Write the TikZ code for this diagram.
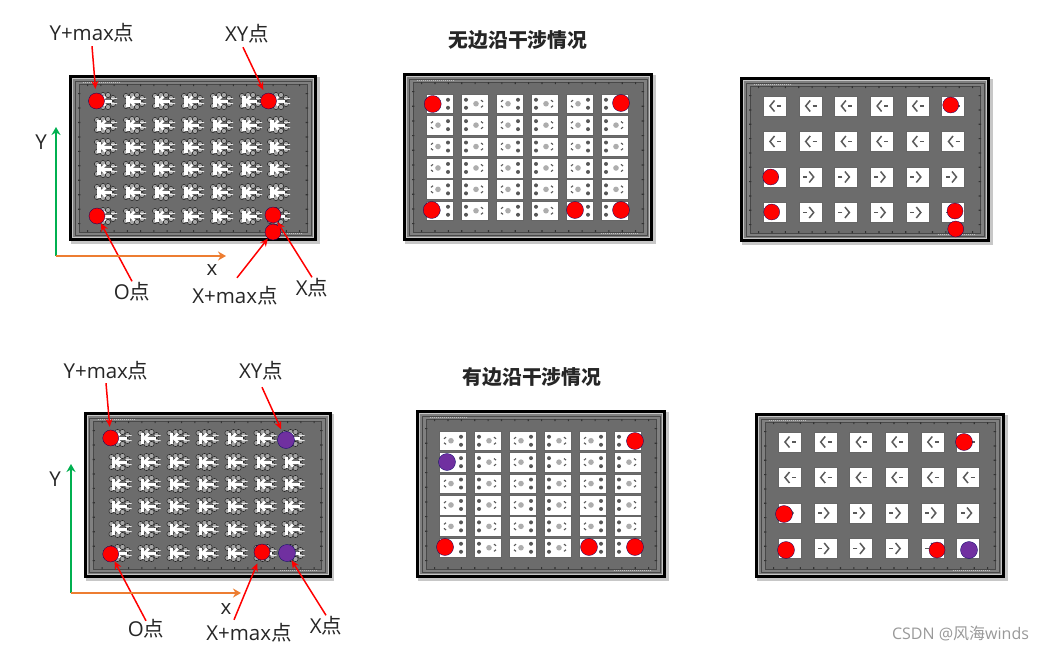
\documentclass[tikz,border=0pt]{standalone}
\usepackage{fontspec}
\setmainfont{Open Sans}
\newfontfamily\cjk{Noto Sans CJK SC}
\usetikzlibrary{arrows.meta, calc}

\definecolor{paneldark}{HTML}{6C6C6C}
\definecolor{panelband}{HTML}{808080}
\definecolor{panelline}{HTML}{484848}
\definecolor{dotred}{HTML}{FF0000}
\definecolor{dotpurple}{HTML}{7030A0}
\definecolor{axisgreen}{HTML}{00B050}
\definecolor{axisorange}{HTML}{ED7D31}

\tikzset{
    reddot/.style={circle, fill=dotred, draw=blue!40!black, line width=0.3pt, minimum size=#1, inner sep=0pt},
    reddot/.default=16pt,
    purpledot/.style={circle, fill=dotpurple, draw=blue!40!black, line width=0.3pt, minimum size=17pt, inner sep=0pt},
    redarrow/.style={-{Stealth[length=8pt,width=7pt]}, red, line width=1.5pt},
    axisarrow/.style={-{Stealth[length=8pt,width=9pt]}, line width=2pt},
    lab/.style={font=\fontsize{20.5}{22}\selectfont, text=black!85, inner sep=1pt, text height=17pt, text depth=2pt},
    titlelab/.style={font=\cjk\bfseries\fontsize{19.8}{22}\selectfont, text=black!85, inner sep=0pt},
    cellbox/.style={fill=white, draw=black!60, line width=0.4pt}
}

\newcommand{\dian}{{\cjk 点}}

% board outline, x y width height
\newcommand{\boardframe}[4]{
    \fill[black!22] (#1+2,#2+2) rectangle ++(#3+0.5,#4+0.5);
    \fill[black] (#1,#2) rectangle ++(#3,#4);
    \fill[black!22] (#1+3,#2+3) rectangle ++(#3-6,#4-6);
    \fill[panelband] (#1+4,#2+4) rectangle ++(#3-8,#4-8);
    \fill[paneldark] (#1+10,#2+9) rectangle ++(#3-20,#4-18);
    \draw[panelline, line width=0.4pt] (#1+6,#2+6) rectangle ++(#3-12,#4-12);
    \draw[panelline, line width=0.6pt] (#1+10,#2+9) rectangle ++(#3-20,#4-18);
    \draw[black!25, line width=1pt, dash pattern=on 1pt off 1pt] (#1+14,#2+7.5) -- ++(38,0) (#1+#3-52,#2+#4-7.5) -- ++(38,0);
    \foreach \tk in {0,...,16}{
        \fill[black!80] ({#1+18+\tk*(#3-36)/16},#2+9) rectangle ++(1.2,2)
                        ({#1+18+\tk*(#3-36)/16},#2+#4-11) rectangle ++(1.2,2);
    }
    \foreach \tk in {0,...,9}{
        \fill[black!80] (#1+9,{#2+18+\tk*(#4-36)/9}) rectangle ++(2.4,1.2)
                        (#1+#3-11.4,{#2+18+\tk*(#4-36)/9}) rectangle ++(2.4,1.2);
    }
}

% small white lead shape of the 7x6 board
\newcommand{\leadmark}[2]{
    \foreach \bx/\by in {-2/-6,3/-6,8/-3,8/3,3/6,-2/6,-8/-5,-8/5}{
        \fill[black!35, draw=black!85, line width=0.5pt] (#1+\bx,#2+\by) circle (2.6);
    }
    \fill[white] (#1-8,#2-5.5) rectangle ++(3.6,11);
    \draw[white, line width=2.8pt] (#1+0.5,#2-4.5) -- (#1-4,#2) -- (#1+0.5,#2+4.5);
    \fill[white] (#1-4,#2-1.5) rectangle ++(11,3);
    \fill[black!10] (#1+6,#2-3) rectangle ++(6,0.9) (#1+6,#2+2.1) rectangle ++(6,0.9);
}

% cell of the 6x6 board, side -1 has the pads on the right
\newcommand{\padcell}[3]{
    \fill[cellbox] (#1,#2) rectangle ++(27,19.5);
    \fill[black!32] ({#1+13.5+#3*1.5},#2+9.75) circle (2.8);
    \foreach \py in {-4,4}{
        \fill[black!66] ({#1+13.5-#3*8.5},#2+9.75+\py) circle (2);
        \draw[black!66, line width=1.1pt] ({#1+13.5+#3*6.5},#2+9.75+\py*0.9) -- ({#1+13.5+#3*8.5},#2+9.75+\py*0.5);
    }
}

% cell of the 6x4 board, side 1 points left
\newcommand{\arrowcell}[3]{
    \fill[cellbox] (#1,#2) rectangle ++(23,20);
    \draw[black!65, line width=1.5pt] ({#1+11+#3*0.5},#2+4.5) -- ({#1+11-#3*4},#2+10) -- ({#1+11+#3*0.5},#2+15.5);
    \draw[black!65, line width=1.7pt] ({#1+11+#3*3},#2+10) -- ({#1+11+#3*7},#2+10);
}

\newcommand{\boardleft}{
    \boardframe{69}{75}{248}{166}
    \foreach \rowy in {101,125,147,169,192,216}{
        \foreach \colx in {105,134,163,192,221,250,278}{
            \leadmark{\colx}{\rowy}
        }
    }
}
\newcommand{\boardmiddle}{
    \boardframe{403}{73}{250}{168}
    \foreach \rowy in {94,115.4,136.8,158.2,179.6,201}{
        \foreach \colx/\side in {426/-1,461/1,496/-1,531/1,566/-1,601/1}{
            \padcell{\colx}{\rowy}{\side}
        }
    }
}
\newcommand{\boardright}{
    \boardframe{740}{77}{250}{165}
    \foreach \colx in {763,798.7,834.4,870.1,905.8,941.5}{
        \foreach \rowy in {96,131.5}{
            \arrowcell{\colx}{\rowy}{1}
        }
        \foreach \rowy in {167,202.5}{
            \arrowcell{\colx}{\rowy}{-1}
        }
    }
}

\begin{document}
\begin{tikzpicture}[x=1pt, y=-1pt]
    \useasboundingbox (0,0) rectangle (1045,651);
    \fill[white] (0,0) rectangle (1045,651);

    % Top row, boards
    \boardleft
    \boardmiddle
    \boardright

    % Bottom row, boards
    \begin{scope}[shift={(14.5,337)}]
        \boardleft
    \end{scope}
    \begin{scope}[shift={(13,337)}]
        \boardmiddle
    \end{scope}
    \begin{scope}[shift={(15,336)}]
        \boardright
    \end{scope}

    % Titles
    \node[titlelab] (titletop) at (518,40) {无边沿干涉情况};
    \node[titlelab] (titlebottom) at (532,377) {有边沿干涉情况};

    % Top left dots
    \node[reddot] (ymaxa) at (96.5,101) {};
    \node[reddot] (xya) at (268.5,101) {};
    \node[reddot] (oa) at (97,216) {};
    \node[reddot] (xa) at (273,215) {};
    \node[reddot] (xmaxa) at (273,232) {};

    % Top left labels
    \node[lab] (labymaxa) at (92,33) {Y+max\dian};
    \node[lab] (labxya) at (247,34) {XY\dian};
    \node[lab] (laboa) at (132,292) {O\dian};
    \node[lab] (labxmaxa) at (235,296) {X+max\dian};
    \node[lab] (labxa) at (312,288) {X\dian};
    \node[lab] (labya) at (41,142) {Y};
    \node[lab] (labxaxisa) at (212,268) {x};

    \draw[redarrow, shorten >=4pt] ([yshift=-2.5pt]labymaxa.south) -- (ymaxa);
    \draw[redarrow, shorten >=4pt] ([xshift=-4pt,yshift=-2.5pt]labxya.south) -- (xya);
    \draw[redarrow] (laboa.north) -- (oa);
    \draw[redarrow] ([xshift=2pt,yshift=7.5pt]labxmaxa.north) -- (xmaxa);
    \draw[redarrow] (labxa.north) -- (xa);

    \coordinate (origina) at (56,256);
    \coordinate (yenda) at (56,127);
    \coordinate (xenda) at (226,256);
    \draw[axisarrow, axisgreen] (origina) -- (yenda);
    \draw[axisarrow, axisorange] (origina) -- (xenda);

    % Top middle dots
    \node[reddot=17pt] (mida1) at (432.7,104) {};
    \node[reddot=17pt] (mida2) at (621,103) {};
    \node[reddot=17pt] (mida3) at (431.7,210) {};
    \node[reddot=17pt] (mida4) at (575,210) {};
    \node[reddot=17pt] (mida5) at (621,210) {};

    % Top right dots
    \node[reddot] (righta1) at (950.7,105) {};
    \node[reddot] (righta2) at (770.7,177) {};
    \node[reddot] (righta3) at (771.7,212) {};
    \node[reddot] (righta4) at (955,211) {};
    \node[reddot] (righta5) at (955.7,229) {};

    % Bottom left dots
    \node[reddot] (ymaxb) at (110.7,438) {};
    \node[purpledot] (xyb) at (286,440) {};
    \node[reddot] (ob) at (110.7,554) {};
    \node[reddot] (xmaxb) at (262,552) {};
    \node[purpledot] (xb) at (287,553) {};

    % Bottom left labels
    \node[lab] (labymaxb) at (106,371) {Y+max\dian};
    \node[lab] (labxyb) at (261,371) {XY\dian};
    \node[lab] (labob) at (146,629) {O\dian};
    \node[lab] (labxmaxb) at (249,633) {X+max\dian};
    \node[lab] (labxb) at (326,626) {X\dian};
    \node[lab] (labyb) at (55,479) {Y};
    \node[lab] (labxaxisb) at (226,607) {x};

    \draw[redarrow, shorten >=3pt] ([yshift=-1.5pt]labymaxb.south) -- (ymaxb);
    \draw[redarrow, shorten >=3pt] ([xshift=1pt,yshift=-5.5pt]labxyb.south) -- (xyb);
    \draw[redarrow] ([yshift=-2.5pt]labob.north) -- (ob);
    \draw[redarrow, shorten >=4pt] ([xshift=-15pt,yshift=2.5pt]labxmaxb.north) -- (xmaxb);
    \draw[redarrow] (labxb.north) -- (xb);

    \coordinate (originb) at (71,593);
    \coordinate (yendb) at (71,464);
    \coordinate (xendb) at (241,593);
    \draw[axisarrow, axisgreen] (originb) -- (yendb);
    \draw[axisarrow, axisorange] (originb) -- (xendb);

    % Bottom middle dots
    \node[reddot=17pt] (midb1) at (635,441) {};
    \node[purpledot] (midb2) at (447,462) {};
    \node[reddot=17pt] (midb3) at (445,547) {};
    \node[reddot=17pt] (midb4) at (589,547) {};
    \node[reddot=17pt] (midb5) at (635,547) {};

    % Bottom right dots
    \node[reddot=17pt] (rightb1) at (964,442) {};
    \node[reddot=17pt] (rightb2) at (784,514) {};
    \node[reddot=17pt] (rightb3) at (786,550) {};
    \node[reddot] (rightb4) at (937,550) {};
    \node[purpledot] (rightb5) at (969,550) {};

    % Watermark
    \node[font=\fontsize{16}{18}\selectfont, text=black!40, inner sep=0pt] (mark) at (960.5,633) {CSDN @{\cjk 风海}winds};
\end{tikzpicture}
\end{document}
